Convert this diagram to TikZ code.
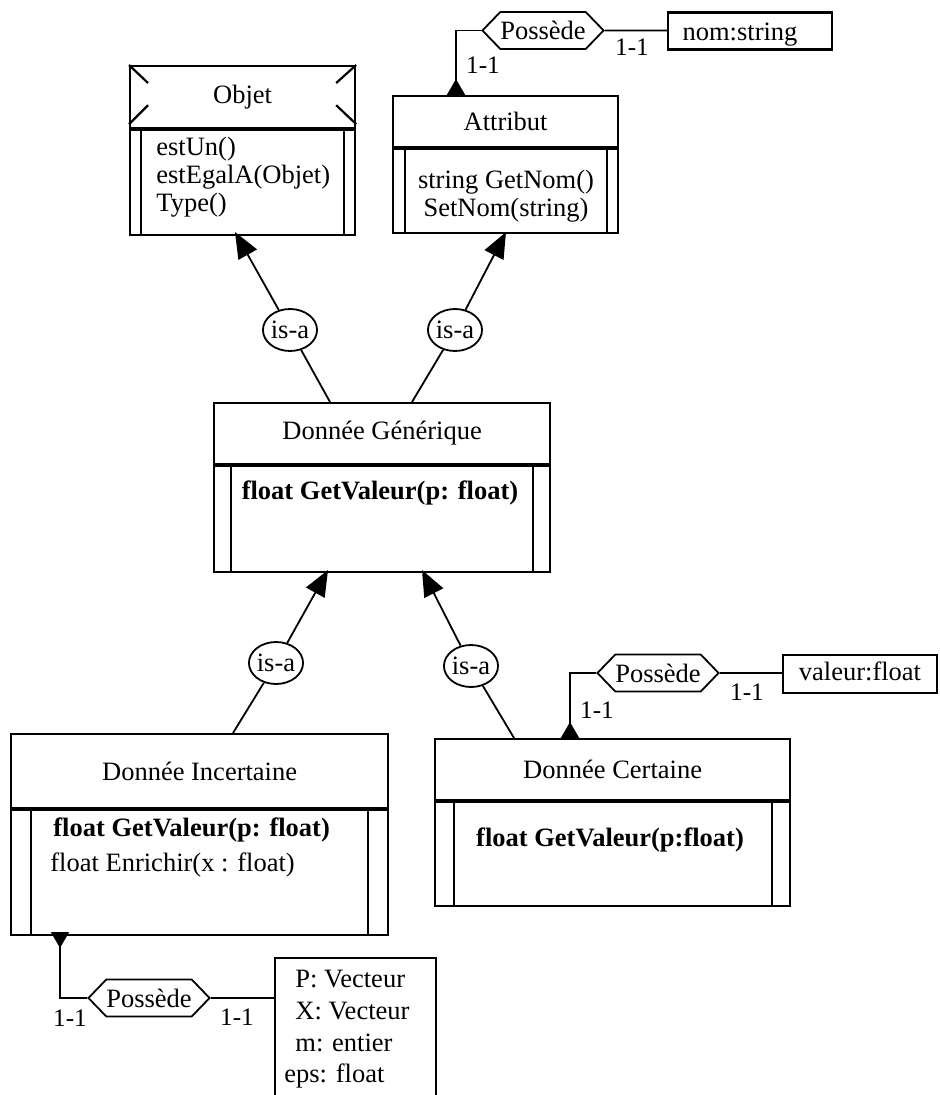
\documentclass[tikz,border=0pt]{standalone}
\usepackage{fontspec}
\setmainfont{Liberation Serif}
\usetikzlibrary{shapes.geometric,shapes.symbols,arrows.meta}

\tikzset{
  txt/.style={inner sep=0pt,font=\fontsize{13.25pt}{14pt}\selectfont},
  classhdr/.style={draw,line width=1.1pt,txt,anchor=north west},
  opsbox/.style={draw,line width=1.1pt,anchor=north,inner sep=0pt,
    path picture={
      \draw[line width=1.1pt] ([xshift=#1]path picture bounding box.north west) -- ([xshift=#1]path picture bounding box.south west);
      \draw[line width=1.1pt] ([xshift=-#1]path picture bounding box.north east) -- ([xshift=-#1]path picture bounding box.south east);
    }},
  isa/.style={draw,ellipse,line width=0.9pt,txt,minimum width=26pt,minimum height=21pt},
  assoc/.style={draw,signal,signal to=east and west,signal pointer angle=92,
    line width=0.9pt,txt,minimum width=59.5pt,minimum height=18.5pt},
  attrbox/.style={draw,line width=1.1pt,txt,text height=9pt,text depth=2.5pt},
  card/.style={txt,font=\fontsize{12.6pt}{13pt}\selectfont},
  link/.style={line width=0.9pt},
  gen/.style={link,-{Triangle[length=13pt,width=10.5pt]}},
  own/.style={link,{Triangle[reversed,length=8pt,width=9pt]}-},
}

\begin{document}
\begin{tikzpicture}[x=0.5pt,y=-0.5pt]
  \useasboundingbox (0,0) rectangle (939,1095);

  % classes
  \node[classhdr,minimum width=112.5pt,minimum height=31pt] (objet) at (129,65) {Objet};
  \node[opsbox=5.5pt,minimum width=112.5pt,minimum height=52.5pt] (objet-ops) at (objet.south) {};
  \draw[line width=1.1pt] (objet.north west) -- ++(19,18);
  \draw[line width=1.1pt] (objet.north east) -- ++(-20,18);
  \draw[line width=1.1pt] (objet.south west) ++(0,-5) -- ++(19,-19);
  \draw[line width=1.1pt] (objet.south east) ++(0,-5) -- ++(-20,-19);
  \node[txt,anchor=west,align=left] (objet-txt) at (156,177) {estUn()\\estEgalA(Objet)\\Type()};

  \node[classhdr,minimum width=112.5pt,minimum height=25.5pt] (attribut) at (392,95) {Attribut};
  \node[opsbox=5.75pt,minimum width=112.5pt,minimum height=42pt] (attribut-ops) at (attribut.south) {};
  \node[txt,align=center] (attribut-txt) at (506,196) {string GetNom()\\SetNom(string)};

  \node[classhdr,minimum width=168pt,minimum height=30.5pt] (generique) at (213,402) {Donnée Générique};
  \node[opsbox=8.5pt,minimum width=168pt,minimum height=53pt] (generique-ops) at (generique.south) {};
  \node[txt,font=\fontsize{13.25pt}{14pt}\selectfont\bfseries] (generique-txt) at (380,493) {float GetValeur(p: float)};

  \node[classhdr,minimum width=188.5pt,minimum height=37pt] (incertaine) at (10,733) {Donnée Incertaine};
  \node[opsbox=10pt,minimum width=188.5pt,minimum height=62.5pt] (incertaine-ops) at (incertaine.south) {};
  \node[txt,anchor=west,font=\fontsize{13.25pt}{14pt}\selectfont\bfseries] (incertaine-txt1) at (53,830) {float GetValeur(p: float)};
  \node[txt,anchor=west] (incertaine-txt2) at (50,865) {float Enrichir(x : float)};

  \node[classhdr,minimum width=177.5pt,minimum height=30.5pt] (certaine) at (434,738) {Donnée Certaine};
  \node[opsbox=9.25pt,minimum width=177.5pt,minimum height=52pt] (certaine-ops) at (certaine.south) {};
  \node[txt,font=\fontsize{13.25pt}{14pt}\selectfont\bfseries] (certaine-txt) at (610,840) {float GetValeur(p:float)};

  % is-a
  \node[isa] (isa-objet) at (290,330) {is-a};
  \node[isa] (isa-attribut) at (455,330) {is-a};
  \node[isa] (isa-incertaine) at (276,663) {is-a};
  \node[isa] (isa-certaine) at (471,666) {is-a};

  \coordinate (objet-in) at (235,232);
  \coordinate (attribut-in) at (506,232);
  \coordinate (generique-up1) at (330,402);
  \coordinate (generique-up2) at (412,402);
  \coordinate (generique-in1) at (328,570);
  \coordinate (generique-in2) at (422,570);
  \coordinate (incertaine-up) at (233,733);
  \coordinate (certaine-up) at (514,738);

  \foreach \src/\via/\dst in {generique-up1/isa-objet/objet-in,
      generique-up2/isa-attribut/attribut-in,
      incertaine-up/isa-incertaine/generique-in1,
      certaine-up/isa-certaine/generique-in2}{
    \draw[link] (\src) -- (\via);
    \draw[gen] (\via) -- (\dst);
  }

  % possede
  \node[assoc] (poss-attribut) at (543,30.5) {Possède};
  \node[attrbox,text height=10.5pt,text depth=1pt,minimum width=82pt,minimum height=18.5pt] (nom) at (750,31) {nom:string\hspace*{10pt}};
  \coordinate (attribut-link) at (456,95);
  \draw[own] (attribut-link) |- (poss-attribut);
  \draw[link] (poss-attribut) -- (poss-attribut -| nom.west);
  \node[card] (card-a1) at (483,65) {1-1};
  \node[card] (card-a2) at (632,47) {1-1};

  \node[assoc] (poss-certaine) at (658,673) {Possède};
  \node[attrbox,minimum width=77pt,minimum height=19pt] (valeur) at (860,674) {valeur:float};
  \coordinate (certaine-link) at (570,738);
  \draw[own] (certaine-link) |- (poss-certaine);
  \draw[link] (poss-certaine) -- (poss-certaine -| valeur.west);
  \node[card] (card-c1) at (597,710) {1-1};
  \node[card] (card-c2) at (747,692) {1-1};

  \node[assoc] (poss-incertaine) at (149,998) {Possède};
  \node[attrbox,anchor=north west,minimum width=80.5pt,minimum height=71.5pt] (vecteur) at (274,957) {};
  \node[txt,anchor=west,align=left,font=\fontsize{13.25pt}{15.85pt}\selectfont] (vecteur-txt) at (284,1029.5)
    {\hspace*{5.5pt}P: Vecteur\\\hspace*{5.5pt}X: Vecteur\\\hspace*{5.5pt}m: entier\\eps: float};
  \coordinate (incertaine-link) at (60,932);
  \draw[own] (incertaine-link) |- (poss-incertaine);
  \draw[link] (poss-incertaine) -- (poss-incertaine -| vecteur.west);
  \node[card] (card-i1) at (70,1018) {1-1};
  \node[card] (card-i2) at (237,1017) {1-1};
\end{tikzpicture}
\end{document}
